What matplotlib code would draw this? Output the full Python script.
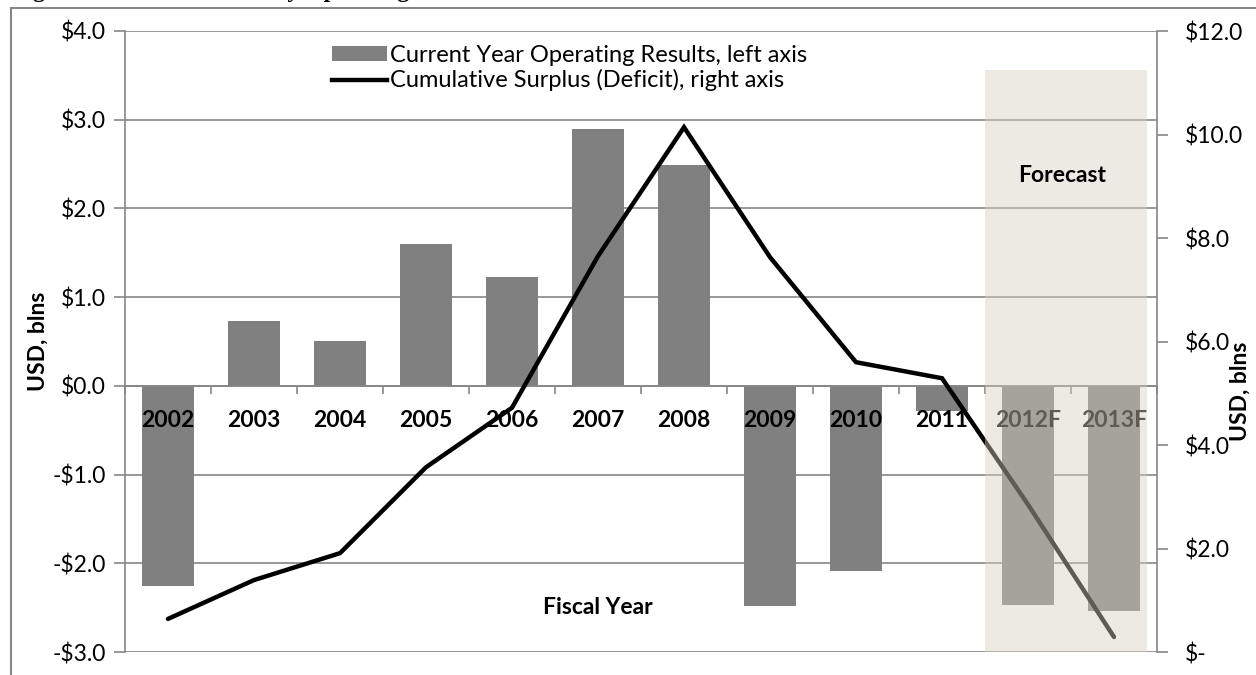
import numpy as np
import matplotlib.pyplot as plt
import matplotlib as mpl
from matplotlib.patches import Rectangle
from matplotlib.lines import Line2D

plt.rcParams['font.family'] = ['Lato', 'DejaVu Sans']

years = ['2002', '2003', '2004', '2005', '2006', '2007', '2008',
         '2009', '2010', '2011', '2012F', '2013F']
operating = [-2.26, 0.73, 0.51, 1.60, 1.23, 2.90, 2.49,
             -2.48, -2.09, -0.28, -2.47, -2.54]
cumulative = [0.64, 1.39, 1.91, 3.57, 4.72, 7.65, 10.14,
              7.63, 5.60, 5.29, 2.85, 0.29]
left_ticks = [-3, -2, -1, 0, 1, 2, 3, 4]
right_ticks = [0, 2, 4, 6, 8, 10, 12]

grey = '#868686'
bar_col = '#808080'
fs = 16.5

fig = plt.figure(figsize=(12.56, 6.75), dpi=100)
ax = fig.add_axes([125/1256, 1-652/675, (1157-125)/1256, (652-31)/675])
ax2 = ax.twinx()

x = np.arange(len(years))
ax.bar(x, operating, width=0.6, color=bar_col, zorder=2)
ax.set_xlim(-0.5, len(years)-0.5)
ax.set_ylim(-3, 4)
ax.set_yticks(left_ticks)
ax.set_yticklabels([('-$%.1f' % -v) if v < 0 else ('$%.1f' % v) for v in left_ticks])
ax.grid(axis='y', color=grey, linewidth=1.2, zorder=0)
ax.set_axisbelow(True)

# category axis sits on the zero line
ax.spines['bottom'].set_position(('data', 0))
ax.spines['bottom'].set_color(grey)
ax.spines['bottom'].set_linewidth(1.2)
ax.spines['top'].set_visible(False)
ax.spines['right'].set_visible(False)
ax.spines['left'].set_color(grey)
ax.spines['left'].set_linewidth(1.2)
ax.set_xticks([])
ax.set_xticks(np.arange(-0.5, len(years)), minor=True)
ax.tick_params(axis='x', which='minor', length=6, color=grey, width=1.2, direction='out')
ax.tick_params(axis='y', length=8, color=grey, width=1.2, labelsize=fs, pad=6)
for i, yr in enumerate(years):
    ax.text(i, -0.39, yr, ha='center', va='center', fontsize=fs, fontweight='bold', zorder=3)

ax.text(5, -2.5, 'Fiscal Year', ha='center', va='center', fontsize=fs, fontweight='bold')
ax.set_ylabel('USD, blns', fontsize=fs, fontweight='bold')
ax.yaxis.set_label_coords(-0.074, 0.50)

ax2.plot(x, cumulative, color='black', linewidth=3.2, solid_capstyle='round',
         solid_joinstyle='miter', zorder=3)
ax2.set_ylim(0, 12)
ax2.set_yticks(right_ticks)
ax2.set_yticklabels(['$-' if v == 0 else '$%.1f' % v for v in right_ticks])
ax2.tick_params(axis='y', length=8, color=grey, width=1.2, labelsize=fs, pad=12)
for s in ['top', 'bottom', 'left']:
    ax2.spines[s].set_visible(False)
ax2.spines['right'].set_color(grey)
ax2.spines['right'].set_linewidth(1.2)
ax2.set_ylabel('USD, blns', fontsize=fs, fontweight='bold')
ax2.yaxis.set_label_coords(1.070, 0.42)

# forecast shading laid over the bars and line
ax2.add_patch(Rectangle((9.5, 0), 1.88, 11.25, facecolor=(216/255, 209/255, 193/255),
                        alpha=0.44, edgecolor='none', zorder=5))
ax2.text(10.4, 9.2, 'Forecast', ha='center', va='center', fontsize=fs,
         fontweight='bold', zorder=6)

handles = [Rectangle((0, 0), 1, 1, facecolor=bar_col),
           Line2D([0], [0], color='black', linewidth=3.2)]
labels = ['Current Year Operating Results, left axis',
          'Cumulative Surplus (Deficit), right axis']
fig.legend(handles, labels, loc='upper left', bbox_to_anchor=(320/1256, 1-33/675),
           frameon=False, fontsize=17, handlelength=2.35, handleheight=0.6,
           handletextpad=0.1, labelspacing=0.15, borderpad=0)

# outer frame and clipped caption
fig.add_artist(Rectangle((11/1256, -0.05), 1.1, 1.05-8/675, transform=fig.transFigure,
                         fill=False, edgecolor=grey, linewidth=1.5))
fig.text(12/1256, 1+3/675, 'Figure 6: Cumulative Yearly Operating Results',
         family='Liberation Serif', fontweight='bold', fontsize=17, va='baseline', ha='left')

fig.savefig('out.png', dpi=100)
